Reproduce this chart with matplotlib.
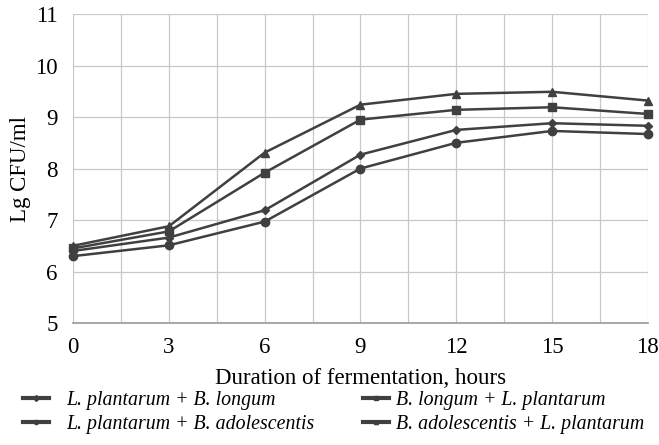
import matplotlib.pyplot as plt
from matplotlib.lines import Line2D

# Fermentation time, hours
hours = [0, 3, 6, 9, 12, 15, 18]

# Lg CFU/ml for each combination of cultures
lp_bl = [6.40, 6.66, 7.19, 8.27, 8.75, 8.88, 8.83]
lp_ba = [6.30, 6.51, 6.97, 8.00, 8.50, 8.73, 8.67]
bl_lp = [6.45, 6.78, 7.92, 8.95, 9.14, 9.19, 9.06]
ba_lp = [6.50, 6.88, 8.31, 9.24, 9.45, 9.49, 9.32]

labels = ['L. plantarum + B. longum', 'L. plantarum + B. adolescentis',
          'B. longum + L. plantarum', 'B. adolescentis + L. plantarum']
markers = ['D', 'o', 's', '^']
sizes = [4, 6, 6, 6]

plt.rcParams['font.family'] = ['Liberation Serif', 'DejaVu Serif']

fig = plt.figure(figsize=(6.59, 4.45), dpi=100)
ax = fig.add_axes([0.111, 0.274, 0.872, 0.6945])

col = '#404040'
for ys, m, s in zip([lp_bl, lp_ba, bl_lp, ba_lp], markers, sizes):
    ax.plot(hours, ys, color=col, lw=1.8, marker=m, ms=s, zorder=3, clip_on=False)

ax.set_xlim(0, 18)
ax.set_ylim(5, 11)
ax.set_xticks(range(0, 19, 3))
ax.set_xticks([x + 1.5 for x in range(0, 18, 3)], minor=True)
ax.set_yticks(range(5, 12))
ax.grid(True, which='both', color='#c8c8c8', lw=0.9)
ax.tick_params(which='both', length=0, labelsize=16.5)
ax.tick_params(axis='x', pad=10)
ax.tick_params(axis='y', pad=11)

for side in ['top', 'right', 'left']:
    ax.spines[side].set_visible(False)
ax.spines['bottom'].set_color('#999999')
ax.spines['bottom'].set_linewidth(1.2)

ax.set_xlabel('Duration of fermentation, hours', fontsize=16.5, labelpad=7)
ax.set_ylabel('Lg CFU/ml', fontsize=16.5, labelpad=3)

handles = [Line2D([], [], color=col, lw=3, marker=m, ms=3) for m in markers]
for i, (x0, pad) in enumerate([(23 / 659, 0.9), (363 / 659, 0.35)]):
    fig.legend(handles[2 * i:2 * i + 2], labels[2 * i:2 * i + 2], loc='upper left',
               bbox_to_anchor=(x0, 1 - 391 / 445), frameon=False,
               prop={'style': 'italic', 'size': 14.3}, handlelength=1.3,
               handletextpad=pad, labelspacing=0.25, borderpad=0, borderaxespad=0)

fig.savefig('out.png', dpi=100)
